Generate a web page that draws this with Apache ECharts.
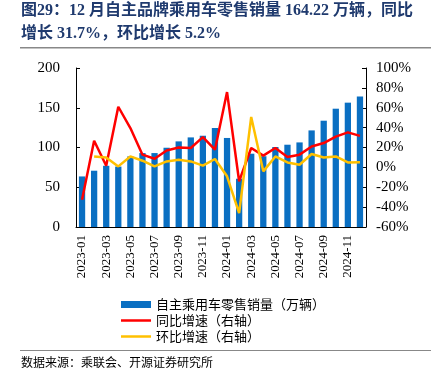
<!DOCTYPE html>
<html><head><meta charset="utf-8">
<script src="https://cdn.jsdelivr.net/npm/echarts@6/dist/echarts.min.js"></script>
<style>html,body{margin:0;padding:0;background:#fff}#c{width:439px;height:384px}</style>
</head><body><div id="c"></div>
<script>
const categories = ['2023-01','2023-02','2023-03','2023-04','2023-05','2023-06','2023-07','2023-08','2023-09','2023-10','2023-11','2023-12',
'2024-01','2024-02','2024-03','2024-04','2024-05','2024-06','2024-07','2024-08','2024-09','2024-10','2024-11','2024-12'];
const sales = [63.6,70.8,77,76,88.8,93,93,99.7,107.7,112.7,114.8,124.5,112,60.7,92.2,89,100.6,103.5,106.4,121.5,133.7,148.8,156.4,164.22];
const yoy = [-32.5,26.8,1.7,61,39.6,12.8,8.7,17,20,19.5,30.5,17.8,75.8,-14,19.5,11.8,19.5,10.4,12.8,21,24.5,31,35.2,31.7];
const mom = [null,11,10,1,11,6.7,1,6,7.7,6,1.7,8.4,-9,-46,50.7,-4,11,5,2.7,13.5,10,11,5,5.2];
const leftTicks = [0,50,100,150,200];
const rightTicks = [-60,-40,-20,0,20,40,60,80,100];
const names = ['自主乘用车零售销量（万辆）','同比增速（右轴）','环比增速（右轴）'];

const chart = echarts.init(document.getElementById('c'));
const serif = "'Liberation Serif','Times New Roman',serif";
const lineIcon = 'path://M0,0L30,0L30,2.5L0,2.5Z';
chart.setOption({
  animation:false,
  grid:{left:76,right:73,top:68,bottom:157,containLabel:false},
  legend:{orient:'vertical',left:116,top:293,itemWidth:30,itemHeight:7,itemGap:3,
    textStyle:{fontFamily:"'Noto Sans CJK SC'",fontSize:13,color:'#000'},
    data:[{name:names[0],icon:'rect'},{name:names[1],icon:lineIcon},{name:names[2],icon:lineIcon}]},
  xAxis:{type:'category',data:categories,boundaryGap:true,
    axisLine:{lineStyle:{color:'#000',width:1}},
    axisTick:{inside:true,interval:1,length:4,lineStyle:{color:'#000'}},
    axisLabel:{interval:1,rotate:90,fontFamily:serif,fontSize:13,color:'#000',margin:8}},
  yAxis:[
    {type:'value',min:leftTicks[0],max:leftTicks[leftTicks.length-1],interval:50,
     axisLine:{show:true,lineStyle:{color:'#000'}},axisTick:{show:true,inside:true,length:4,lineStyle:{color:'#000'}},
     splitLine:{show:false},axisLabel:{fontFamily:serif,fontSize:15,color:'#000',margin:16}},
    {type:'value',min:rightTicks[0],max:rightTicks[rightTicks.length-1],interval:20,
     axisLine:{show:true,lineStyle:{color:'#000'}},axisTick:{show:true,inside:true,length:4,lineStyle:{color:'#000'}},
     splitLine:{show:false},axisLabel:{fontFamily:serif,fontSize:15,color:'#000',margin:10,formatter:'{value}%'}}
  ],
  series:[
    {name:names[0],type:'bar',data:sales,barWidth:'52%',itemStyle:{color:'#0A6FC2'}},
    {name:names[1],type:'line',yAxisIndex:1,data:yoy,symbol:'none',lineStyle:{color:'#FF0000',width:2.5},itemStyle:{color:'#FF0000'}},
    {name:names[2],type:'line',yAxisIndex:1,data:mom,symbol:'none',lineStyle:{color:'#FFC000',width:2.5},itemStyle:{color:'#FFC000'}}
  ],
  graphic:[
    {type:'text',left:21,top:3,style:{text:'图29：12 月自主品牌乘用车零售销量 164.22 万辆，同比',font:"bold 16px 'Liberation Serif','Noto Sans CJK SC'",fill:'#1F3A6E'}},
    {type:'text',left:21,top:26,style:{text:'增长 31.7%，环比增长 5.2%',font:"bold 16px 'Liberation Serif','Noto Sans CJK SC'",fill:'#1F3A6E'}},
    {type:'rect',shape:{x:20,y:47,width:411,height:1.5},style:{fill:'#888'}},
    {type:'rect',shape:{x:20,y:350,width:411,height:1},style:{fill:'#888'}},
    {type:'text',left:21,top:356,style:{text:'数据来源：乘联会、开源证券研究所',font:"12px 'Noto Sans CJK SC'",fill:'#000'}}
  ]
});
</script></body></html>
